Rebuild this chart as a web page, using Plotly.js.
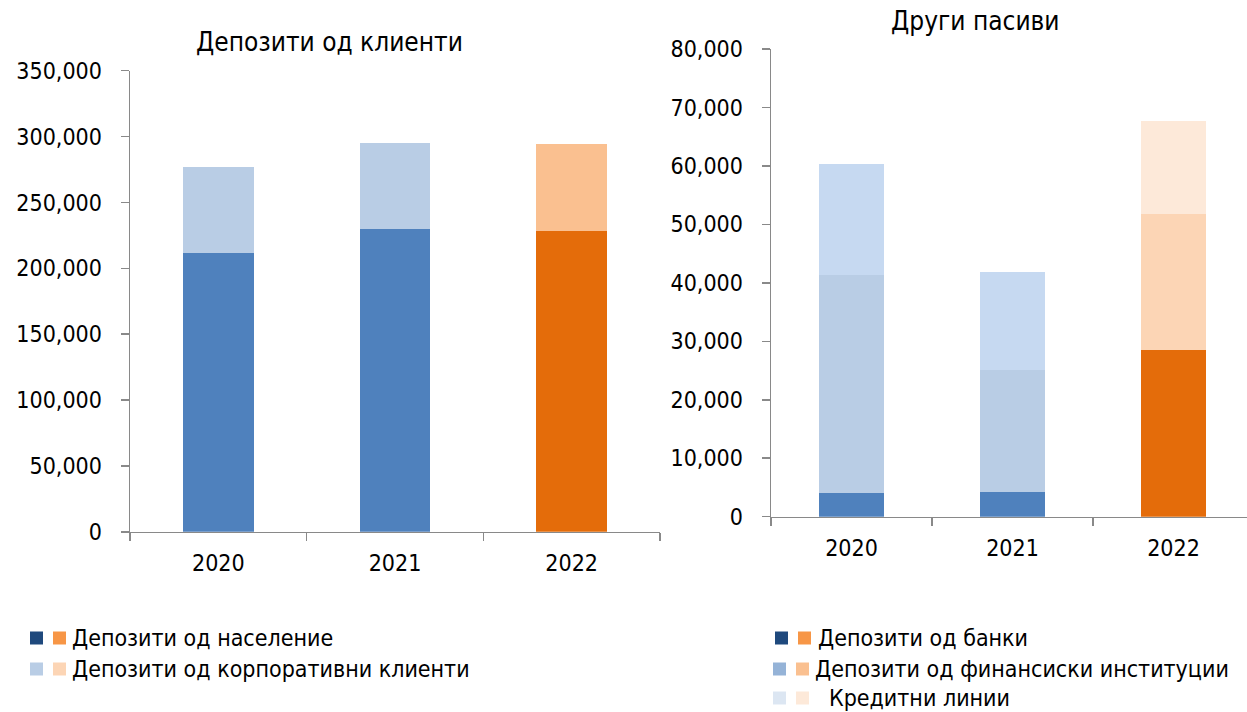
<!DOCTYPE html>
<html>
<head>
<meta charset="utf-8">
<script src="https://cdn.plot.ly/plotly-3.0.1.min.js"></script>
<style>
	html, body { margin: 0; padding: 0; background: #fff; }
	#chart { width: 1247px; height: 712px; }
</style>
</head>
<body>
<div id="chart"></div>
<script>
// categories
const years = [ '2020', '2021', '2022' ];

// Депозити од клиенти
const householdDeposits = [ 211900, 230100, 228300 ];
const corporateDeposits = [ 65000, 65300, 66100 ];

// Други пасиви
const bankDeposits = [ 4000, 4280, 28510 ];
const finInstDeposits = [ 37340, 20760, 23270 ];
const creditLines = [ 18990, 16820, 15910 ];

// legend labels
const leftLegend = [ 'Депозити од население', 'Депозити од корпоративни клиенти' ];
const rightLegend = [ 'Депозити од банки', 'Депозити од финансиски институции', 'Кредитни линии' ];

const W = 1247, H = 712;
const FONT = '"DejaVu Sans Condensed", "DejaVu Sans", sans-serif';

// pixel -> paper helpers
const px = x => x / W;
const py = y => 1 - y / H;

// 2022 is drawn in orange tones, previous years in blue
const byYear = ( blue, orange ) => years.map(y => y === '2022' ? orange : blue);

const data = [];

data.push({
	type: 'bar', x: years, y: householdDeposits, xaxis: 'x', yaxis: 'y',
	width: 0.4, marker: { color: byYear('#4F81BD', '#E46C0A') },
	name: leftLegend[0], showlegend: false
});
data.push({
	type: 'bar', x: years, y: corporateDeposits, xaxis: 'x', yaxis: 'y',
	width: 0.4, marker: { color: byYear('#B9CDE5', '#FAC090') },
	name: leftLegend[1], showlegend: false
});

data.push({
	type: 'bar', x: years, y: bankDeposits, xaxis: 'x2', yaxis: 'y2',
	width: 0.4, marker: { color: byYear('#4F81BD', '#E46C0A') },
	name: rightLegend[0], showlegend: false
});
data.push({
	type: 'bar', x: years, y: finInstDeposits, xaxis: 'x2', yaxis: 'y2',
	width: 0.4, marker: { color: byYear('#B9CDE5', '#FCD5B5') },
	name: rightLegend[1], showlegend: false
});
data.push({
	type: 'bar', x: years, y: creditLines, xaxis: 'x2', yaxis: 'y2',
	width: 0.4, marker: { color: byYear('#C6D9F1', '#FDE9D9') },
	name: rightLegend[2], showlegend: false
});

const axisLine = { showline: true, linecolor: '#898989', linewidth: 1.5, ticks: 'outside', ticklen: 8, tickcolor: '#898989', tickwidth: 1.5 };
const tickFont = { family: FONT, size: 23, color: '#000' };

const xCommon = Object.assign({}, axisLine, {
	type: 'category', tickson: 'boundaries', showgrid: false, zeroline: false,
	tickfont: tickFont, ticklabelstandoff: 10
});
const yCommon = Object.assign({}, axisLine, {
	showgrid: false, zeroline: false, tickformat: ',d', tickfont: tickFont,
	ticklabelstandoff: 14
});

/**
 * Legend - drawn by hand, each entry has a blue and an orange swatch
 */
const shapes = [];
const annotations = [];

function legendRow( xSwatch, xText, yc, colorA, colorB, label ){
	[ [ xSwatch, colorA ], [ xSwatch + 23, colorB ] ].forEach(([ x0, c ]) => {
		shapes.push({
			type: 'rect', xref: 'paper', yref: 'paper',
			x0: px(x0), x1: px(x0 + 13), y0: py(yc + 6.5), y1: py(yc - 6.5),
			fillcolor: c, line: { width: 0 }
		});
	});
	annotations.push({
		xref: 'paper', yref: 'paper', x: px(xText), y: py(yc),
		xanchor: 'left', yanchor: 'middle', showarrow: false,
		text: label, font: { family: FONT, size: 23, color: '#000' }
	});
}

legendRow(30, 70, 638, '#1F497D', '#F79646', leftLegend[0]);
legendRow(30, 70, 669, '#B9CDE5', '#FCD5B5', leftLegend[1]);
legendRow(775, 816, 638, '#1F497D', '#F79646', rightLegend[0]);
legendRow(773, 813, 669, '#95B3D7', '#FAC090', rightLegend[1]);
legendRow(773, 827, 698, '#DCE6F2', '#FDE9D9', rightLegend[2]);

// chart titles
annotations.push({
	xref: 'paper', yref: 'paper', x: px(329), y: py(42), xanchor: 'center', yanchor: 'middle',
	showarrow: false, text: 'Депозити од клиенти', font: { family: FONT, size: 26, color: '#000' }
});
annotations.push({
	xref: 'paper', yref: 'paper', x: px(975), y: py(21), xanchor: 'center', yanchor: 'middle',
	showarrow: false, text: 'Други пасиви', font: { family: FONT, size: 26, color: '#000' }
});

const layout = {
	width: W, height: H,
	margin: { l: 0, r: 0, t: 0, b: 0 },
	paper_bgcolor: '#fff', plot_bgcolor: '#fff',
	barmode: 'stack',
	showlegend: false,
	xaxis: Object.assign({}, xCommon, { domain: [ px(130), px(660) ], range: [ -0.5, 2.5 ], anchor: 'y' }),
	yaxis: Object.assign({}, yCommon, { domain: [ py(531.8), py(70.7) ], range: [ 0, 350000 ], dtick: 50000, anchor: 'x' }),
	xaxis2: Object.assign({}, xCommon, { domain: [ px(771), 1 ], range: [ -0.5, -0.5 + (W - 771) / 161 ], anchor: 'y2' }),
	yaxis2: Object.assign({}, yCommon, { domain: [ py(516.7), py(49) ], range: [ 0, 80000 ], dtick: 10000, anchor: 'x2' }),
	shapes,
	annotations
};

Plotly.newPlot('chart', data, layout, { displayModeBar: false, staticPlot: true });
</script>
</body>
</html>
